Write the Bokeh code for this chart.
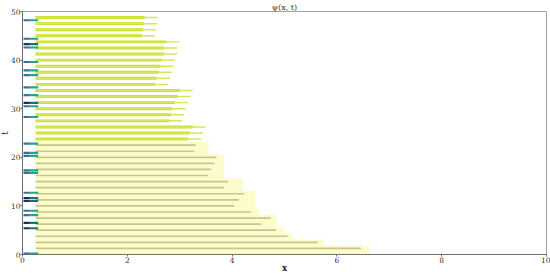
from bokeh.plotting import figure
from bokeh.models import Range1d, FixedTicker, Title
from bokeh.embed import file_html
from bokeh.resources import INLINE

# Row times (t) of the streaks
row_t = [1.25, 2.5, 3.75, 5.0, 6.25, 7.5, 8.75, 10.0, 11.25, 12.5, 13.75, 15.0, 16.25,
         17.5, 18.75, 20.0, 21.25, 22.5, 23.75, 25.0, 26.25, 27.5, 28.75, 30.0, 31.25,
         32.5, 33.75, 35.0, 36.25, 37.5, 38.75, 40.0, 41.25, 42.5, 43.75, 45.0, 46.25,
         47.5, 48.75]
# x where each streak ends
row_end = [6.46, 5.63, 5.06, 4.84, 4.55, 4.74, 4.36, 4.04, 4.13, 4.23, 3.85, 3.92, 3.54,
           3.60, 3.66, 3.70, 3.28, 3.31, 3.41, 3.44, 3.50, 3.05, 3.08, 3.11, 3.16,
           3.21, 3.25, 2.78, 2.81, 2.85, 2.88, 2.91, 2.95, 2.95, 3.00, 2.53, 2.55,
           2.57, 2.58]
# pale background band for the lower rows
pale_t = [0.0, 1.25, 2.5, 3.75, 5.0, 6.25, 7.5, 8.75, 10.0, 11.25, 12.5, 13.75, 15.0,
          16.25, 17.5, 18.75, 20.0, 21.25, 22.5]
pale_end = [6.62, 6.62, 5.75, 5.15, 5.0, 4.85, 4.85, 4.5, 4.45, 4.45, 4.45, 4.2, 4.2,
            3.85, 3.85, 3.85, 3.85, 3.55, 3.55]
# short marks at the left edge
mark_t = [48.2, 44.4, 43.3, 42.6, 39.6, 37.9, 36.9, 34.4, 32.8, 31.2, 30.5, 28.3,
          22.8, 20.9, 20.3, 17.3, 16.8, 12.7, 11.6, 11.0, 9.0, 8.1, 6.5, 5.4, 0.2]
mark_dark = [0, 0, 1, 0, 0, 0, 0, 0, 0, 1, 0, 0,
             0, 0, 0, 0, 0, 0, 1, 1, 0, 0, 1, 1, 0]

x_ticks = [0, 2, 4, 6, 8, 10]
t_ticks = [0, 10, 20, 30, 40, 50]

X0 = 0.25
N_LOW = 18

p = figure(width=550, height=275, x_range=Range1d(0, 10), y_range=Range1d(0, 50),
           output_backend="svg", toolbar_location=None, title="ψ(x, t)",
           min_border_left=0, min_border_right=4, min_border_top=0, min_border_bottom=0)

# pale background
p.quad(left=[X0] * len(pale_t), right=pale_end,
       bottom=[max(0.0, t - 0.625) for t in pale_t], top=[t + 0.625 for t in pale_t],
       fill_color="#fcfcca", line_color=None)

# lower (faint) streaks
lt = row_t[:N_LOW]
le = row_end[:N_LOW]
p.quad(left=[X0] * N_LOW, right=le, bottom=[t - 0.17 for t in lt], top=[t + 0.17 for t in lt],
       fill_color="#c9c58e", line_color=None)

# upper (bright) streaks with tapered tip
ut = row_t[N_LOW:]
ue = row_end[N_LOW:]
n_up = len(ut)
p.quad(left=[X0] * n_up, right=[e - 0.25 for e in ue], bottom=[t - 0.3 for t in ut],
       top=[t + 0.3 for t in ut], fill_color="#c8df1c", line_color=None)
p.quad(left=[X0] * n_up, right=ue, bottom=[t - 0.15 for t in ut],
       top=[t + 0.15 for t in ut], fill_color="#d6e65a", line_color=None)

# left marks
c1 = ["#1f2f55" if d else "#3a6f9a" for d in mark_dark]
c2 = ["#1c6f78" if d else "#27a38b" for d in mark_dark]
p.quad(left=[0.02] * len(mark_t), right=[0.14] * len(mark_t),
       bottom=[t - 0.22 for t in mark_t], top=[t + 0.22 for t in mark_t],
       fill_color=c1, line_color=None)
p.quad(left=[0.14] * len(mark_t), right=[0.3] * len(mark_t),
       bottom=[t - 0.22 for t in mark_t], top=[t + 0.22 for t in mark_t],
       fill_color=c2, line_color=None)

p.title.align = "center"
p.title.text_font = "DejaVu Serif"
p.title.text_font_size = "8px"
p.title.text_font_style = "normal"
p.title.text_color = "#333333"
p.title.offset = 0
p.title.standoff = 0

p.xgrid.visible = False
p.ygrid.visible = False
p.outline_line_color = "#a0a0a0"
p.outline_line_width = 1
for ax in (p.xaxis[0], p.yaxis[0]):
    ax.axis_line_color = "#707070"
    ax.major_tick_line_color = "#707070"
    ax.minor_tick_line_color = None
    ax.major_tick_in = 0
    ax.major_tick_out = 2
    ax.major_label_text_font = "DejaVu Serif"
    ax.major_label_text_font_size = "7.5px"
    ax.major_label_text_color = "#333333"
    ax.major_label_standoff = 1
    ax.axis_label_standoff = 0
    ax.axis_label_text_font = "DejaVu Serif"
    ax.axis_label_text_font_size = "8.5px"
    ax.axis_label_text_font_style = "bold"
    ax.axis_label_text_color = "#222222"
p.xaxis.ticker = FixedTicker(ticks=x_ticks)
p.yaxis.ticker = FixedTicker(ticks=t_ticks)
p.xaxis.axis_label = "x"
p.xaxis.major_label_standoff = 0
p.yaxis.major_label_standoff = 0
try:
    p.xaxis[0].axis_label_standoff = -3
except Exception:
    pass

t_title = Title(text="t", align="center", text_font="DejaVu Serif",
                text_font_size="8.5px", text_font_style="normal",
                text_color="#222222", offset=0, standoff=0)
try:
    t_title.standoff = -5
except Exception:
    pass
p.add_layout(t_title, "left")

open("out.html", "w").write(file_html(p, INLINE))
